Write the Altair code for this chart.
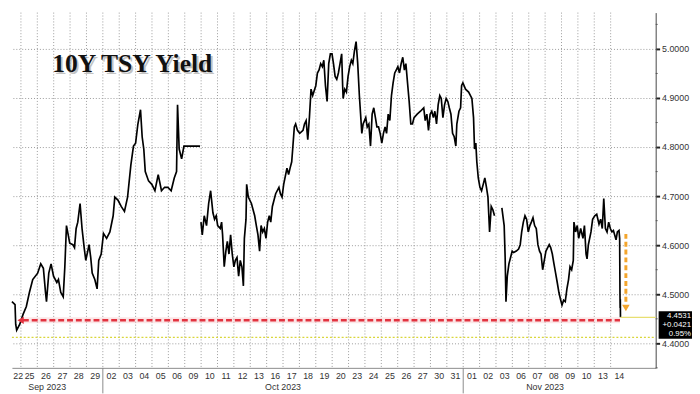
import altair as alt
import pandas as pd

# ---------------- data ----------------
DAY_LABELS = ["22", "25", "26", "27", "28", "29", "02", "03", "04", "05", "06", "09",
              "10", "11", "12", "13", "16", "17", "18", "19", "20", "23", "24", "25",
              "26", "27", "30", "31", "01", "02", "03", "06", "07", "08", "09", "10",
              "13", "14"]
MONTH_LABELS = ["Sep 2023", "Oct 2023", "Nov 2023"]
MONTH_CENTERS = [2.6, 17.0, 33.0]
MONTH_BREAKS = [6, 28]

# time in trading-day units (day i spans [i, i+1)), yield in %
SEG1_T = [0.45, 0.64, 0.68, 0.74, 0.93, 1.13, 1.33, 1.52, 1.72, 2.02, 2.21, 2.37, 2.50, 2.56,
          2.70, 2.84, 2.99, 3.19, 3.29, 3.43, 3.58, 3.68, 3.78, 3.98, 4.17, 4.27, 4.37, 4.47,
          4.61, 4.73, 4.86, 4.96, 5.16, 5.26, 5.35, 5.51, 5.65, 5.75, 5.90, 6.04, 6.23, 6.43,
          6.63, 6.73, 6.92, 7.12, 7.32, 7.51, 7.71, 7.87, 8.00, 8.14, 8.30, 8.40, 8.50, 8.59,
          8.79, 8.99, 9.18, 9.38, 9.58, 9.77, 9.97, 10.17, 10.36, 10.50, 10.56, 10.66, 10.81,
          10.95, 11.93]
SEG1_Y = [4.485, 4.479, 4.439, 4.427, 4.439, 4.459, 4.475, 4.504, 4.530, 4.543, 4.562, 4.553,
          4.504, 4.485, 4.543, 4.562, 4.537, 4.524, 4.530, 4.504, 4.495, 4.556, 4.640, 4.604,
          4.601, 4.595, 4.634, 4.647, 4.685, 4.634, 4.595, 4.569, 4.601, 4.575, 4.543, 4.530,
          4.511, 4.569, 4.582, 4.624, 4.614, 4.627, 4.660, 4.698, 4.692, 4.679, 4.669, 4.698,
          4.763, 4.802, 4.808, 4.847, 4.876, 4.821, 4.796, 4.750, 4.731, 4.724, 4.711, 4.744,
          4.711, 4.718, 4.718, 4.711, 4.737, 4.750, 4.886, 4.796, 4.776, 4.802, 4.802]

SEG2_T = [11.99, 12.07, 12.19, 12.33, 12.46, 12.58, 12.72, 12.82, 12.92, 13.01, 13.17, 13.25,
          13.31, 13.41, 13.51, 13.60, 13.70, 13.80, 13.90, 14.00, 14.09, 14.19, 14.29, 14.39,
          14.49, 14.58, 14.64, 14.74, 14.78, 14.88, 15.07, 15.27, 15.37, 15.47, 15.57, 15.66,
          15.76, 15.86, 15.96, 16.06, 16.16, 16.25, 16.35, 16.55, 16.75, 16.84, 16.94, 17.04,
          17.24, 17.34, 17.43, 17.53, 17.59, 17.69, 17.77, 17.88, 18.02, 18.22, 18.31, 18.41,
          18.51, 18.61, 18.71, 18.81, 19.00, 19.10, 19.20, 19.30, 19.40, 19.49, 19.59, 19.69,
          19.79, 19.89, 19.99, 20.08, 20.18, 20.28, 20.38, 20.48, 20.58, 20.64, 20.67, 20.77,
          20.87, 20.97, 21.07, 21.17, 21.26, 21.36, 21.46, 21.56, 21.66, 21.76, 21.81, 21.89,
          22.05, 22.14, 22.24, 22.34, 22.44, 22.54, 22.64, 22.73, 22.83, 22.93, 23.03, 23.13,
          23.23, 23.32, 23.42, 23.52, 23.62, 23.72, 23.82, 23.91, 24.01, 24.11, 24.21, 24.31,
          24.41, 24.50, 24.60, 24.70, 24.80, 24.90, 25.00, 25.19, 25.39, 25.59, 25.68, 25.78,
          25.88, 25.98, 26.08, 26.18, 26.27, 26.37, 26.47, 26.57, 26.66, 26.76, 26.86, 26.96,
          27.06, 27.15, 27.25, 27.35, 27.45, 27.55, 27.61, 27.74, 27.84, 27.90, 27.98, 28.14,
          28.33, 28.53, 28.63, 28.69, 28.77, 28.83, 28.92, 29.02, 29.12, 29.22, 29.32, 29.42,
          29.51, 29.61, 29.71, 29.81, 29.91]
SEG2_Y = [4.647, 4.621, 4.660, 4.640, 4.685, 4.711, 4.666, 4.653, 4.660, 4.640, 4.634, 4.647,
          4.621, 4.556, 4.588, 4.608, 4.582, 4.621, 4.582, 4.556, 4.569, 4.575, 4.537, 4.569,
          4.556, 4.517, 4.614, 4.653, 4.724, 4.698, 4.685, 4.660, 4.640, 4.621, 4.588, 4.640,
          4.627, 4.634, 4.614, 4.647, 4.660, 4.647, 4.679, 4.705, 4.718, 4.705, 4.698, 4.724,
          4.757, 4.744, 4.757, 4.770, 4.796, 4.841, 4.847, 4.834, 4.828, 4.834, 4.847, 4.854,
          4.815, 4.860, 4.918, 4.905, 4.925, 4.951, 4.957, 4.970, 4.964, 4.977, 4.925, 4.893,
          4.970, 4.990, 4.990, 4.970, 4.944, 4.938, 4.951, 4.970, 4.990, 4.925, 4.899, 4.918,
          4.912, 4.944, 4.964, 4.977, 4.970, 4.996, 5.015, 4.970, 4.905, 4.854, 4.828, 4.847,
          4.860, 4.841, 4.847, 4.802, 4.867, 4.880, 4.860, 4.841, 4.841, 4.828, 4.808, 4.828,
          4.841, 4.828, 4.867, 4.854, 4.905, 4.931, 4.951, 4.957, 4.964, 4.951, 4.970, 4.983,
          4.957, 4.970, 4.931, 4.893, 4.847, 4.847, 4.860, 4.867, 4.873, 4.880, 4.854, 4.867,
          4.834, 4.867, 4.873, 4.860, 4.873, 4.847, 4.886, 4.905, 4.899, 4.860, 4.886, 4.899,
          4.893, 4.880, 4.867, 4.828, 4.821, 4.802, 4.847, 4.873, 4.880, 4.925, 4.931, 4.918,
          4.912, 4.899, 4.860, 4.796, 4.808, 4.770, 4.737, 4.718, 4.711, 4.724, 4.737, 4.718,
          4.698, 4.627, 4.679, 4.672, 4.660]

SEG3_T = [30.36, 30.50, 30.56, 30.61, 30.69, 30.79, 30.89, 30.99, 31.08, 31.24, 31.38, 31.48,
          31.57, 31.67, 31.77, 31.87, 31.97, 32.07, 32.16, 32.26, 32.36, 32.46, 32.56, 32.66,
          32.75, 32.85, 33.05, 33.25, 33.34, 33.44, 33.54, 33.64, 33.74, 33.84, 33.93, 34.03,
          34.13, 34.23, 34.33, 34.43, 34.52, 34.62, 34.72, 34.76, 34.86, 34.96, 35.05, 35.17,
          35.31, 35.40, 35.50, 35.56, 35.64, 35.80, 35.90, 36.03, 36.15, 36.29, 36.39, 36.49,
          36.58, 36.68, 36.78, 36.88, 36.98, 37.08, 37.17, 37.33, 37.41, 37.51, 37.55, 37.57,
          37.58, 37.59, 37.60]
SEG3_Y = [4.676, 4.640, 4.575, 4.485, 4.537, 4.562, 4.575, 4.588, 4.585, 4.588, 4.592, 4.601,
          4.627, 4.647, 4.660, 4.653, 4.627, 4.640, 4.647, 4.656, 4.640, 4.634, 4.601, 4.588,
          4.582, 4.550, 4.588, 4.601, 4.595, 4.582, 4.562, 4.543, 4.524, 4.504, 4.491, 4.478,
          4.488, 4.485, 4.511, 4.530, 4.556, 4.550, 4.569, 4.647, 4.627, 4.640, 4.614, 4.634,
          4.614, 4.640, 4.582, 4.572, 4.601, 4.627, 4.653, 4.660, 4.663, 4.643, 4.653, 4.634,
          4.695, 4.634, 4.627, 4.647, 4.634, 4.627, 4.630, 4.611, 4.627, 4.630, 4.614, 4.500,
          4.472, 4.490, 4.4531]

Y_TICKS = [4.4, 4.5, 4.6, 4.7, 4.8, 4.9, 5.0]
Y_MINOR = [4.35, 4.45, 4.55, 4.65, 4.75, 4.85, 4.95, 5.05]

LAST_VALUE = 4.4531
BOX_TEXT = ["4.4531", "+0.0421", "0.95%"]
BOX_ROWS = [4.4551, 4.4366, 4.4181]
BOX_TOP, BOX_BOTTOM = 4.4655, 4.4095

RED_LEVEL = 4.447
RED_START, RED_END = 1.12, 37.57
RED_TIP = 0.98
ORANGE_T = 37.93
ORANGE_TOP, ORANGE_BOTTOM, ORANGE_TIP = 4.623, 4.485, 4.472
YELLOW_LEVEL = 4.412

TITLE = "10Y TSY Yield"

# ---------------- layout ----------------
W, H = 656, 362
XDOM = [0.45, 39.75]
YDOM = [4.35, 5.074]
FONT = "Liberation Sans"

rows = []
for seg, (ts, ys) in enumerate([(SEG1_T, SEG1_Y), (SEG2_T, SEG2_Y), (SEG3_T, SEG3_Y)]):
    for t, y in zip(ts, ys):
        rows.append({"t": t, "y": y, "seg": seg})
line_df = pd.DataFrame(rows)

xs = alt.Scale(domain=XDOM, nice=False, zero=False)
ys_ = alt.Scale(domain=YDOM, nice=False, zero=False)

label_js = "[" + ",".join("'%s'" % d for d in DAY_LABELS) + "][floor(datum.value)]"

x_axis = alt.Axis(values=[i + 0.5 for i in range(len(DAY_LABELS))], labelExpr=label_js,
                  grid=False, ticks=False, domainColor="#8a8a8a", labelFont=FONT,
                  labelFontSize=9, labelColor="#333", labelPadding=4, title=None,
                  labelOverlap=False, labelFlush=3)
y_axis = alt.Axis(orient="right", values=Y_TICKS, format=".4f", grid=True,
                  gridDash=[1, 2], gridColor="#9a9a9a", domainColor="#444",
                  tickColor="#222", tickSize=4, tickWidth=2, labelFont=FONT,
                  labelFontSize=9, labelColor="#333", labelPadding=2, title=None)


def X(field):
    return alt.X(field, scale=xs, axis=x_axis)


def Y(field):
    return alt.Y(field, scale=ys_, axis=y_axis)


base_line = alt.Chart(line_df).mark_line(color="black", strokeWidth=1.7).encode(
    x=X("t:Q"), y=Y("y:Q"), detail="seg:N")

vgrid = alt.Chart(pd.DataFrame({"t": list(range(1, len(DAY_LABELS)))})).mark_rule(
    color="#9a9a9a", strokeDash=[1, 2], strokeWidth=1).encode(x=X("t:Q"))

yellow_dotted = alt.Chart(pd.DataFrame({"t1": [XDOM[0]], "t2": [XDOM[1]], "y": [YELLOW_LEVEL]})).mark_rule(
    color="#d9d63a", strokeDash=[2, 2], strokeWidth=1.2).encode(
    x=X("t1:Q"), x2="t2:Q", y=Y("y:Q"))

current_line = alt.Chart(pd.DataFrame({"t1": [37.6], "t2": [XDOM[1]], "y": [LAST_VALUE]})).mark_rule(
    color="#e8df72", strokeWidth=1.3).encode(
    x=X("t1:Q"), x2="t2:Q", y=Y("y:Q"))

red_df = pd.DataFrame({"t1": [RED_START], "t2": [RED_END], "y": [RED_LEVEL]})
red_glow = alt.Chart(red_df).mark_rule(color="#f4b6ba", strokeWidth=6, opacity=0.35).encode(
    x=X("t1:Q"), x2="t2:Q", y=Y("y:Q"))
red_line = alt.Chart(red_df).mark_rule(color="#e2323f", strokeWidth=2.6, strokeDash=[6, 3]).encode(
    x=X("t1:Q"), x2="t2:Q", y=Y("y:Q"))
red_tip = alt.Chart(pd.DataFrame({"t": [RED_TIP], "y": [RED_LEVEL]})).mark_point(
    shape="triangle-left", filled=True, size=55, color="#e2323f", opacity=1).encode(
    x=X("t:Q"), y=Y("y:Q"))

orange_line = alt.Chart(pd.DataFrame({"t": [ORANGE_T], "y1": [ORANGE_TOP], "y2": [ORANGE_BOTTOM]})).mark_rule(
    color="#f4a52c", strokeWidth=3, strokeDash=[5, 3]).encode(
    x=X("t:Q"), y=Y("y1:Q"), y2="y2:Q")
orange_tip = alt.Chart(pd.DataFrame({"t": [ORANGE_T], "y": [ORANGE_TIP]})).mark_point(
    shape="triangle-down", filled=True, size=60, color="#f4a52c", opacity=1).encode(
    x=X("t:Q"), y=Y("y:Q"))

minor_ticks = alt.Chart(pd.DataFrame({"y": Y_MINOR})).mark_rule(color="#555", strokeWidth=1).encode(
    y=Y("y:Q"), x=alt.value(W), x2=alt.value(W + 2))

month_sep = alt.Chart(pd.DataFrame({"t": MONTH_BREAKS})).mark_rule(color="#8a8a8a", strokeWidth=1).encode(
    x=X("t:Q"), y=alt.value(H), y2=alt.value(H + 26))
month_text = alt.Chart(pd.DataFrame({"t": MONTH_CENTERS, "label": MONTH_LABELS})).mark_text(
    font=FONT, fontSize=9, color="#333", baseline="middle").encode(
    x=X("t:Q"), y=alt.value(H + 20), text="label:N")

box = alt.Chart(pd.DataFrame({"y1": [BOX_TOP], "y2": [BOX_BOTTOM]})).mark_rect(color="black").encode(
    x=alt.value(W + 3), x2=alt.value(W + 37), y=Y("y1:Q"), y2="y2:Q")
box_text = alt.Chart(pd.DataFrame({"y": BOX_ROWS, "label": BOX_TEXT})).mark_text(
    font=FONT, fontSize=8, color="white", align="right", baseline="middle").encode(
    x=alt.value(W + 36), y=Y("y:Q"), text="label:N")

title_shadow = alt.Chart(pd.DataFrame({"label": [TITLE]})).mark_text(
    font="Liberation Serif", fontSize=26, fontWeight="bold", color="#888", opacity=0.5,
    align="left", baseline="alphabetic").encode(
    x=alt.value(43), y=alt.value(63), text="label:N")
title_text = alt.Chart(pd.DataFrame({"label": [TITLE]})).mark_text(
    font="Liberation Serif", fontSize=26, fontWeight="bold", color="#111",
    align="left", baseline="alphabetic").encode(
    x=alt.value(41), y=alt.value(61), text="label:N")

chart = alt.layer(
    vgrid, yellow_dotted, base_line, current_line, red_glow, red_line, red_tip,
    orange_line, orange_tip, minor_ticks, month_sep, month_text, box, box_text,
    title_shadow, title_text,
).properties(width=W, height=H, padding=0, background="white").configure_view(stroke=None)

chart.save("out.html", embed_options={"renderer": "svg", "actions": False})
